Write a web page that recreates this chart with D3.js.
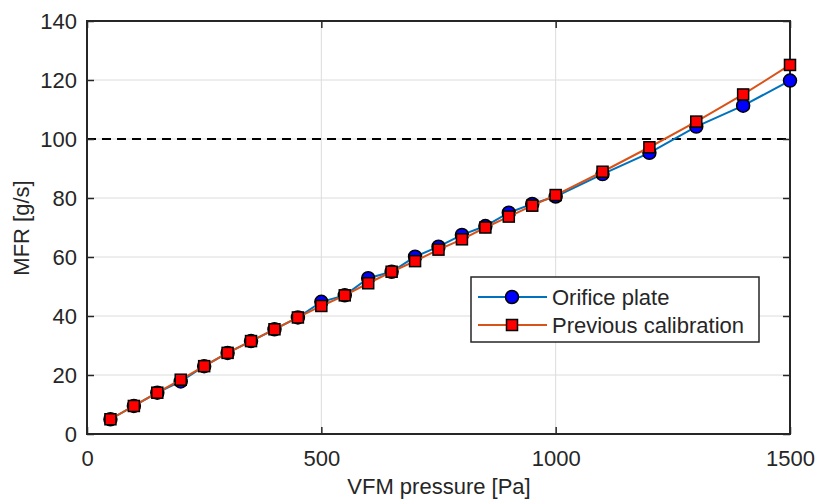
<!DOCTYPE html>
<html>
<head>
<meta charset="utf-8">
<script src="https://cdn.jsdelivr.net/npm/d3@7"></script>
<style>
  body { margin: 0; background: #fff; }
  text { font-family: "Liberation Sans", Arial, sans-serif; fill: #262626; }
</style>
</head>
<body>
<script>
var pressure = [50, 100, 150, 200, 250, 300, 350, 400, 450, 500, 550, 600, 650, 700, 750,
                800, 850, 900, 950, 1000, 1100, 1200, 1300, 1400, 1500];
var orifice = [5, 9.5, 14, 17.8, 23, 27.5, 31.5, 35.5, 39.5, 44.8, 47, 52.8, 55, 60.1, 63.5,
               67.5, 70.5, 75, 78, 80.5, 88.1, 95.3, 104.2, 111.3, 119.8];
var previous = [5, 9.5, 14, 18.4, 23, 27.5, 31.5, 35.5, 39.5, 43.4, 47, 51.1, 55, 58.6, 62.5,
                66, 70, 73.7, 77.4, 81, 88.9, 97.2, 105.9, 115.1, 125.1];
var xTicks = [0, 500, 1000, 1500];
var yTicks = [0, 20, 40, 60, 80, 100, 120, 140];
var refLevel = 100;

var margin = {top: 21, right: 27, bottom: 65, left: 87};
var width = 817 - margin.left - margin.right,
    height = 499 - margin.top - margin.bottom;
var fs = 22;

var svg = d3.select("body")
    .append("svg")
    .attr("width", 817)
    .attr("height", 499)
    .append("g")
    .attr("transform", "translate(" + margin.left + "," + margin.top + ")");

var xScale = d3.scaleLinear().domain([0, 1500]).range([0, width]),
    yScale = d3.scaleLinear().domain([0, 140]).range([height, 0]);

// grid
svg.selectAll(".gx").data(xTicks).enter().append("line")
    .attr("x1", function (d) { return xScale(d); })
    .attr("x2", function (d) { return xScale(d); })
    .attr("y1", 0).attr("y2", height)
    .attr("stroke", "#dcdcdc").attr("stroke-width", 1);
svg.selectAll(".gy").data(yTicks).enter().append("line")
    .attr("y1", function (d) { return yScale(d); })
    .attr("y2", function (d) { return yScale(d); })
    .attr("x1", 0).attr("x2", width)
    .attr("stroke", "#dcdcdc").attr("stroke-width", 1);

// reference dashed line
svg.append("line")
    .attr("x1", 0).attr("x2", width)
    .attr("y1", yScale(refLevel)).attr("y2", yScale(refLevel))
    .attr("stroke", "#000").attr("stroke-width", 2)
    .attr("stroke-dasharray", "9,6");

// axes (inward ticks, box)
function styleAxis(g) {
    g.select(".domain").remove();
    g.selectAll(".tick line").attr("stroke", "#262626").attr("stroke-width", 1.5);
    g.selectAll(".tick text").attr("font-size", fs).attr("fill", "#262626")
        .style("font-family", "Liberation Sans, Arial, sans-serif");
}
svg.append("g").attr("transform", "translate(0," + height + ")")
    .call(d3.axisBottom(xScale).tickValues(xTicks).tickSizeInner(-7).tickSizeOuter(0)
        .tickPadding(16).tickFormat(d3.format("d")))
    .call(styleAxis);
svg.append("g")
    .call(d3.axisLeft(yScale).tickValues(yTicks).tickSizeInner(-7).tickSizeOuter(0)
        .tickPadding(10).tickFormat(d3.format("d")))
    .call(styleAxis);
svg.append("g")
    .call(d3.axisTop(xScale).tickValues(xTicks).tickSizeInner(-7).tickSizeOuter(0).tickFormat(""))
    .call(styleAxis);
svg.append("g").attr("transform", "translate(" + width + ",0)")
    .call(d3.axisRight(yScale).tickValues(yTicks).tickSizeInner(-7).tickSizeOuter(0).tickFormat(""))
    .call(styleAxis);

svg.append("rect")
    .attr("width", width).attr("height", height)
    .attr("fill", "none").attr("stroke", "#262626").attr("stroke-width", 2);

// series
var lineO = d3.line().x(function (d, i) { return xScale(pressure[i]); }).y(function (d) { return yScale(d); });

svg.append("path").datum(orifice).attr("d", lineO)
    .attr("fill", "none").attr("stroke", "#0072bd").attr("stroke-width", 2);
svg.selectAll(".o").data(orifice).enter().append("circle")
    .attr("cx", function (d, i) { return xScale(pressure[i]); })
    .attr("cy", function (d) { return yScale(d); })
    .attr("r", 6.5)
    .attr("fill", "#0000ff").attr("stroke", "#000").attr("stroke-width", 1.5);

svg.append("path").datum(previous).attr("d", lineO)
    .attr("fill", "none").attr("stroke", "#d95319").attr("stroke-width", 2);
svg.selectAll(".p").data(previous).enter().append("rect")
    .attr("x", function (d, i) { return xScale(pressure[i]) - 5.5; })
    .attr("y", function (d) { return yScale(d) - 5.5; })
    .attr("width", 11).attr("height", 11)
    .attr("fill", "#ff0000").attr("stroke", "#000").attr("stroke-width", 1.5);

// legend
var lg = svg.append("g").attr("transform", "translate(" + (471 - margin.left) + "," + (277 - margin.top) + ")");
lg.append("rect").attr("width", 288).attr("height", 65)
    .attr("fill", "#fff").attr("stroke", "#262626").attr("stroke-width", 1.5);
lg.append("line").attr("x1", 7).attr("x2", 76).attr("y1", 20).attr("y2", 20)
    .attr("stroke", "#0072bd").attr("stroke-width", 2);
lg.append("circle").attr("cx", 41).attr("cy", 20).attr("r", 6.5)
    .attr("fill", "#0000ff").attr("stroke", "#000").attr("stroke-width", 1.5);
lg.append("line").attr("x1", 7).attr("x2", 76).attr("y1", 48).attr("y2", 48)
    .attr("stroke", "#d95319").attr("stroke-width", 2);
lg.append("rect").attr("x", 35.5).attr("y", 42.5).attr("width", 11).attr("height", 11)
    .attr("fill", "#ff0000").attr("stroke", "#000").attr("stroke-width", 1.5);
lg.append("text").attr("x", 81).attr("y", 28).attr("font-size", fs).text("Orifice plate");
lg.append("text").attr("x", 81).attr("y", 56).attr("font-size", fs).text("Previous calibration");

// axis labels
svg.append("text")
    .attr("x", 439 - margin.left).attr("y", 494 - margin.top)
    .attr("text-anchor", "middle").attr("font-size", fs)
    .text("VFM pressure [Pa]");
svg.append("text")
    .attr("transform", "translate(" + (29 - margin.left) + "," + (228 - margin.top) + ") rotate(-90)")
    .attr("text-anchor", "middle").attr("font-size", fs)
    .text("MFR [g/s]");
</script>
</body>
</html>
